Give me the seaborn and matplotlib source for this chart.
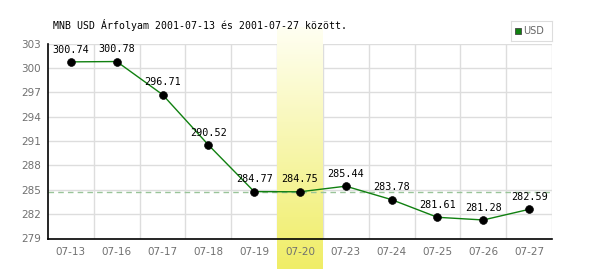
import numpy as np
import pandas as pd
import matplotlib
matplotlib.use("Agg")
import matplotlib.pyplot as plt
import seaborn as sns

dates = ["07-13", "07-16", "07-17", "07-18", "07-19", "07-20",
         "07-23", "07-24", "07-25", "07-26", "07-27"]
values = [300.74, 300.78, 296.71, 290.52, 284.77, 284.75,
          285.44, 283.78, 281.61, 281.28, 282.59]
yticks = [279, 282, 285, 288, 291, 294, 297, 300, 303]
highlight = "07-20"
title = "MNB USD Árfolyam 2001-07-13 és 2001-07-27 között."
series_name = "USD"

sns.set_style("white")
df = pd.DataFrame({"pos": np.arange(len(dates)), "value": values, "date": dates})

fig = plt.figure(figsize=(6, 2.7), dpi=100)
ax = fig.add_axes([48/600, 1-238.5/270, 504/600, 195/270])
ax.set_facecolor("white")

ax.grid(False)
ax.set_axisbelow(False)
for yv in yticks[1:]:
    ax.axhline(yv, color="#dddddd", lw=1, zorder=0.5)
for xb in np.arange(len(dates)) + 0.5:
    ax.axvline(xb, color="#dddddd", lw=1, zorder=0.5)

# highlighted band with gradient
hi = dates.index(highlight)
grad = np.linspace(0, 1, 256).reshape(-1, 1)
top = np.array([1.0, 1.0, 0.95])
bot = np.array([0.94, 0.93, 0.40])
img = top[None, None, :] * (1 - grad[:, :, None]) + bot[None, None, :] * grad[:, :, None]
ax.imshow(img, extent=[hi - 0.5, hi + 0.5, 275.3, 305.0], aspect="auto",
          origin="upper", zorder=1, clip_on=False)

# reference dashed line at highlighted value
ax.axhline(values[hi], color="#99c499", lw=1, ls=(0, (4, 3)), zorder=1.5)

sns.lineplot(data=df, x="pos", y="value", color="#108010", lw=1, ax=ax, zorder=3)
sns.scatterplot(data=df, x="pos", y="value", color="black", s=32, edgecolor="black",
                ax=ax, zorder=4)

for p, v in zip(df["pos"], values):
    ax.text(p, v + 0.9, f"{v:.2f}", ha="center", va="bottom", fontsize=7.3,
            family="DejaVu Sans Mono", color="black", zorder=5)

ax.set_xlim(-0.5, len(dates) - 0.5)
ax.set_ylim(yticks[0], yticks[-1])
ax.set_yticks(yticks)
ax.set_xticks(df["pos"])
ax.set_xticklabels(dates)
ax.tick_params(axis="both", which="both", length=0, labelsize=7.5, labelcolor="#707070")
ax.tick_params(axis="y", pad=5)
ax.tick_params(axis="x", pad=6)

ax.set_xlabel("")
ax.set_ylabel("")
for s in ["top", "right"]:
    ax.spines[s].set_visible(False)
for s in ["left", "bottom"]:
    ax.spines[s].set_color("black")
    ax.spines[s].set_linewidth(1.2)
    ax.spines[s].set_zorder(6)
ax.spines["left"].set_bounds(yticks[0], yticks[-1])

fig.text(53/600, 1-25/270, title, fontsize=7.1, family="DejaVu Sans Mono",
         ha="left", va="center", color="black")

# legend box
lax = fig.add_axes([511/600, 1-41/270, 41/600, 20/270])
lax.set_xlim(0, 41); lax.set_ylim(0, 20)
lax.set_xticks([]); lax.set_yticks([])
for s in lax.spines.values():
    s.set_color("#dddddd")
lax.add_patch(plt.Rectangle((4, 7), 6, 6, facecolor="#108010", edgecolor="#444444", lw=0.6))
lax.text(12, 10, series_name, fontsize=7, color="#666666", va="center", ha="left")

fig.savefig("out.png", dpi=100)
